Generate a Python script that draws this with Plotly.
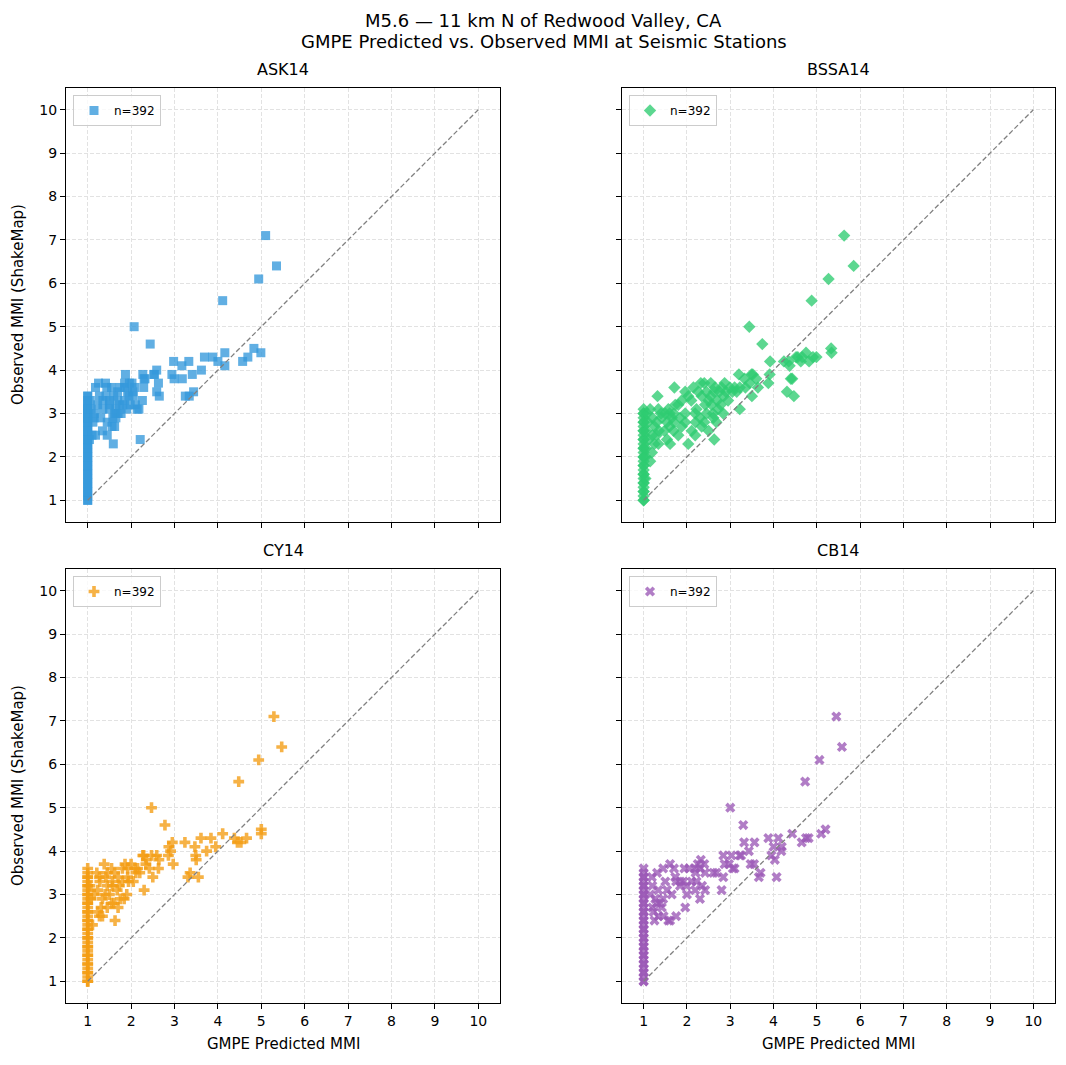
import plotly.graph_objects as go

# ---------------- data ----------------
TITLE_1 = "M5.6 — 11 km N of Redwood Valley, CA"
TITLE_2 = "GMPE Predicted vs. Observed MMI at Seismic Stations"
MODELS = ["ASK14", "BSSA14", "CY14", "CB14"]
COUNT_LABEL = "n=392"
MMI_TICKS = [1, 2, 3, 4, 5, 6, 7, 8, 9, 10]
ONE_TO_ONE = [1, 10]

# (GMPE predicted MMI, observed MMI)
ASK14 = [
    (1.0, 1.0), (1.0, 1.1), (1.0, 1.2), (1.0, 1.3), (1.0, 1.4), (1.0, 1.5), (1.0, 1.6), (1.0, 1.7),
    (1.0, 1.8), (1.0, 1.9), (1.0, 2.0), (1.0, 2.1), (1.0, 2.2), (1.0, 2.3), (1.0, 2.4), (1.0, 2.5),
    (1.0, 2.6), (1.0, 2.7), (1.0, 2.8), (1.0, 2.9), (1.0, 3.0), (1.0, 3.1), (1.0, 3.2), (1.0, 3.3),
    (1.0, 3.4), (1.0, 1.0), (1.0, 1.2), (1.0, 1.4), (1.0, 1.6), (1.0, 1.8), (1.0, 2.0), (1.0, 2.2),
    (1.0, 2.4), (1.0, 2.6), (1.0, 2.8), (1.0, 3.0), (1.0, 3.2), (1.0, 3.4), (1.0, 3.1), (1.0, 2.9),
    (1.04, 2.4), (1.06, 3.3), (1.08, 3.1), (1.10, 2.5), (1.15, 3.0), (1.15, 2.9), (1.12, 2.8),
    (1.18, 3.6), (1.18, 2.5), (1.23, 3.2), (1.25, 3.7), (1.27, 3.4), (1.30, 2.9), (1.34, 2.6),
    (1.35, 3.1), (1.35, 3.3), (1.41, 3.7), (1.42, 3.4), (1.44, 3.6), (1.45, 2.5), (1.45, 2.8),
    (1.50, 3.3), (1.50, 3.2), (1.50, 3.1), (1.55, 3.6), (1.56, 2.7), (1.58, 2.9), (1.59, 2.3),
    (1.60, 3.4), (1.62, 2.7), (1.62, 3.0), (1.65, 3.1), (1.65, 2.9), (1.69, 3.5), (1.69, 3.3),
    (1.70, 3.0), (1.73, 3.2), (1.75, 3.6), (1.77, 3.0), (1.81, 3.2), (1.85, 3.7), (1.85, 3.3),
    (1.85, 3.6), (1.87, 3.9), (1.90, 3.1), (1.92, 3.5), (1.95, 3.4), (1.96, 3.7), (1.98, 3.2),
    (2.02, 3.7), (2.04, 3.5), (2.05, 3.4), (2.08, 3.6), (2.10, 3.2), (2.14, 3.1), (2.18, 3.1),
    (2.21, 2.4), (2.26, 3.3), (2.27, 3.9), (2.29, 3.6), (2.30, 3.8), (2.32, 3.8), (2.52, 3.9),
    (2.54, 3.9), (2.59, 4.0), (2.59, 3.5), (2.63, 3.7), (2.65, 3.4), (2.94, 3.9), (2.98, 4.2),
    (2.99, 3.8), (3.17, 4.1), (3.18, 3.8), (3.25, 3.4), (3.33, 4.2), (3.34, 3.4), (3.41, 3.9),
    (3.44, 3.5), (3.62, 4.0), (3.69, 4.3), (3.88, 4.3), (4.00, 4.2), (4.16, 4.4), (4.16, 4.1),
    (4.57, 4.2), (4.69, 4.3), (4.83, 4.5), (4.99, 4.4), (2.44, 4.6), (2.07, 5.0), (4.11, 5.6),
    (4.94, 6.1), (5.35, 6.4), (5.10, 7.1),
]

BSSA14 = [
    (1.0, 1.0), (1.0, 1.1), (1.0, 1.2), (1.0, 1.3), (1.0, 1.4), (1.0, 1.5), (1.0, 1.6), (1.0, 1.7),
    (1.0, 1.8), (1.0, 1.9), (1.0, 2.0), (1.0, 2.1), (1.0, 2.2), (1.0, 2.3), (1.0, 2.4), (1.0, 2.5),
    (1.0, 2.6), (1.0, 2.7), (1.0, 2.8), (1.0, 2.9), (1.0, 3.0), (1.0, 3.1), (1.0, 1.0), (1.0, 1.2),
    (1.0, 1.4), (1.0, 1.6), (1.0, 1.8), (1.0, 2.0), (1.0, 2.2), (1.0, 2.4), (1.0, 2.6), (1.0, 2.8),
    (1.0, 3.0), (1.04, 1.5), (1.04, 2.0), (1.05, 2.2), (1.06, 2.6), (1.08, 3.0), (1.10, 2.8),
    (1.12, 2.4), (1.15, 3.1), (1.15, 1.9), (1.19, 2.1), (1.20, 2.9), (1.20, 2.5), (1.25, 2.7),
    (1.25, 2.3), (1.30, 2.5), (1.30, 2.8), (1.32, 3.4), (1.34, 3.1), (1.34, 2.3), (1.35, 2.6),
    (1.40, 3.0), (1.42, 2.9), (1.48, 2.6), (1.50, 3.0), (1.54, 2.8), (1.54, 2.4), (1.57, 3.1),
    (1.60, 3.0), (1.60, 2.7), (1.61, 2.3), (1.65, 2.9), (1.69, 2.6), (1.70, 2.8), (1.70, 3.0),
    (1.71, 3.6), (1.73, 3.2), (1.80, 3.2), (1.80, 2.5), (1.84, 2.9), (1.88, 3.3), (1.88, 2.7),
    (1.96, 3.5), (1.96, 3.0), (1.96, 2.8), (2.03, 3.4), (2.03, 2.3), (2.10, 3.3), (2.11, 2.6),
    (2.15, 3.6), (2.19, 3.0), (2.19, 2.5), (2.20, 2.8), (2.22, 3.1), (2.26, 3.5), (2.30, 2.9),
    (2.32, 3.7), (2.34, 3.4), (2.34, 2.7), (2.40, 3.7), (2.40, 2.8), (2.42, 3.2), (2.45, 3.5),
    (2.45, 3.0), (2.50, 3.3), (2.50, 2.6), (2.55, 3.4), (2.55, 3.7), (2.57, 3.2), (2.60, 3.0),
    (2.61, 2.9), (2.63, 3.5), (2.63, 2.4), (2.65, 3.6), (2.68, 2.8), (2.70, 3.3), (2.72, 3.1),
    (2.75, 3.5), (2.78, 3.2), (2.80, 3.6), (2.84, 3.0), (2.85, 3.4), (2.87, 3.7), (2.90, 3.5),
    (2.95, 3.3), (2.99, 3.6), (3.05, 3.5), (3.10, 3.6), (3.15, 3.5), (3.20, 3.9), (3.22, 3.6),
    (3.22, 3.1), (3.33, 3.8), (3.35, 3.6), (3.45, 3.7), (3.49, 3.9), (3.50, 3.4), (3.52, 3.9),
    (3.60, 3.8), (3.64, 3.6), (3.88, 3.7), (3.91, 3.9), (3.92, 4.2), (4.24, 4.2), (4.31, 3.5),
    (4.35, 4.2), (4.37, 4.1), (4.40, 3.8), (4.43, 3.8), (4.47, 3.4), (4.52, 4.3), (4.56, 4.3),
    (4.63, 4.2), (4.66, 4.3), (4.75, 4.4), (4.82, 4.2), (4.91, 4.3), (4.99, 4.3), (5.33, 4.5),
    (5.34, 4.4), (3.74, 4.6), (3.44, 5.0), (4.88, 5.6), (5.27, 6.1), (5.85, 6.4), (5.63, 7.1),
]

CY14 = [
    (1.0, 1.0), (1.0, 1.1), (1.0, 1.2), (1.0, 1.3), (1.0, 1.4), (1.0, 1.5), (1.0, 1.6), (1.0, 1.7),
    (1.0, 1.8), (1.0, 1.9), (1.0, 2.0), (1.0, 2.1), (1.0, 2.2), (1.0, 2.3), (1.0, 2.4), (1.0, 2.5),
    (1.0, 2.6), (1.0, 2.7), (1.0, 2.8), (1.0, 2.9), (1.0, 3.0), (1.0, 3.1), (1.0, 3.2), (1.0, 3.3),
    (1.0, 3.4), (1.0, 3.5), (1.0, 3.6), (1.0, 1.0), (1.0, 1.2), (1.0, 1.4), (1.0, 1.6), (1.0, 1.8),
    (1.0, 2.0), (1.0, 2.2), (1.0, 2.4), (1.0, 2.6), (1.0, 2.8), (1.0, 3.0), (1.0, 3.2), (1.0, 3.4),
    (1.05, 3.2), (1.08, 2.9), (1.11, 2.3), (1.15, 3.0), (1.21, 3.5), (1.23, 3.1), (1.23, 2.6),
    (1.27, 3.4), (1.27, 2.5), (1.28, 3.3), (1.31, 2.7), (1.34, 2.9), (1.34, 2.5), (1.38, 3.7),
    (1.40, 3.0), (1.42, 3.4), (1.45, 3.5), (1.45, 3.2), (1.45, 2.7), (1.50, 3.0), (1.55, 3.6),
    (1.55, 2.8), (1.57, 3.3), (1.57, 3.2), (1.60, 2.8), (1.62, 3.5), (1.63, 2.4), (1.68, 3.1),
    (1.70, 3.4), (1.70, 2.7), (1.73, 3.2), (1.75, 2.9), (1.80, 3.3), (1.80, 3.6), (1.84, 2.9),
    (1.86, 3.7), (1.90, 3.0), (1.92, 3.6), (1.92, 3.4), (1.94, 3.3), (2.00, 3.7), (2.05, 3.3),
    (2.09, 3.6), (2.11, 3.5), (2.15, 3.6), (2.20, 3.5), (2.27, 3.9), (2.29, 3.9), (2.30, 3.1),
    (2.34, 3.7), (2.35, 3.8), (2.42, 3.6), (2.47, 3.9), (2.50, 3.4), (2.59, 3.9), (2.63, 3.6),
    (2.64, 3.8), (2.86, 3.9), (2.87, 4.1), (2.91, 4.0), (2.95, 4.2), (2.97, 3.7), (3.24, 4.2),
    (3.31, 3.4), (3.36, 3.5), (3.47, 4.1), (3.49, 3.9), (3.50, 3.8), (3.55, 3.4), (3.61, 4.3),
    (3.74, 4.0), (3.84, 4.3), (3.95, 4.1), (4.11, 4.4), (4.38, 4.3), (4.45, 4.2), (4.53, 4.2),
    (4.66, 4.3), (5.00, 4.5), (5.00, 4.4), (2.78, 4.6), (2.47, 5.0), (4.48, 5.6), (4.94, 6.1),
    (5.47, 6.4), (5.29, 7.1),
]

CB14 = [
    (1.0, 1.0), (1.0, 1.1), (1.0, 1.2), (1.0, 1.3), (1.0, 1.4), (1.0, 1.5), (1.0, 1.6), (1.0, 1.7),
    (1.0, 1.8), (1.0, 1.9), (1.0, 2.0), (1.0, 2.1), (1.0, 2.2), (1.0, 2.3), (1.0, 2.4), (1.0, 2.5),
    (1.0, 2.6), (1.0, 2.7), (1.0, 2.8), (1.0, 2.9), (1.0, 3.0), (1.0, 3.1), (1.0, 3.2), (1.0, 3.3),
    (1.0, 3.4), (1.0, 3.5), (1.0, 3.6), (1.0, 1.0), (1.0, 1.2), (1.0, 1.4), (1.0, 1.6), (1.0, 1.8),
    (1.0, 2.0), (1.0, 2.2), (1.0, 2.4), (1.0, 2.6), (1.0, 2.8), (1.0, 3.0), (1.0, 3.2), (1.0, 3.4),
    (1.15, 3.0), (1.19, 3.4), (1.20, 3.2), (1.20, 2.7), (1.23, 2.6), (1.25, 2.4), (1.27, 2.9),
    (1.30, 2.8), (1.31, 3.5), (1.34, 3.1), (1.34, 2.5), (1.38, 2.8), (1.42, 2.7), (1.45, 3.6),
    (1.45, 2.9), (1.46, 2.5), (1.50, 3.3), (1.54, 3.1), (1.57, 2.4), (1.61, 3.7), (1.61, 2.4),
    (1.65, 3.0), (1.70, 3.6), (1.73, 3.4), (1.75, 3.3), (1.75, 2.5), (1.84, 3.2), (1.85, 3.3),
    (1.92, 3.3), (1.94, 3.6), (1.96, 2.7), (1.99, 3.2), (2.00, 3.0), (2.05, 3.6), (2.11, 3.3),
    (2.19, 3.6), (2.19, 3.1), (2.20, 3.5), (2.22, 3.3), (2.25, 3.7), (2.30, 3.6), (2.30, 2.9),
    (2.32, 3.8), (2.35, 3.2), (2.40, 3.7), (2.42, 3.5), (2.42, 3.1), (2.61, 3.5), (2.68, 3.5),
    (2.80, 3.1), (2.84, 3.4), (2.84, 3.9), (2.87, 3.7), (2.97, 3.7), (3.03, 3.9), (3.06, 3.6),
    (3.10, 3.6), (3.22, 3.9), (3.25, 3.9), (3.32, 4.2), (3.43, 4.0), (3.47, 3.7), (3.55, 3.7),
    (3.56, 4.2), (3.66, 3.4), (3.70, 3.5), (3.88, 4.3), (3.95, 3.9), (4.00, 4.1), (4.03, 3.8),
    (4.07, 3.4), (4.11, 4.3), (4.18, 4.0), (4.19, 4.1), (4.43, 4.4), (4.65, 4.2), (4.75, 4.3),
    (4.81, 4.3), (5.10, 4.4), (5.20, 4.5), (3.30, 4.6), (3.00, 5.0), (4.73, 5.6), (5.06, 6.1),
    (5.58, 6.4), (5.45, 7.1),
]

MODEL_POINTS = [ASK14, BSSA14, CY14, CB14]
COLORS = ["#3498db", "#2ecc71", "#f39c12", "#9b59b6"]
SYMBOLS = ["square", "diamond", "cross", "x"]
SIZES = [9, 9.5, 9, 9]

# ---------------- layout geometry ----------------
W, H = 1066, 1065
X_DOMAINS = [(66 / W, 500 / W), (622 / W, 1055 / W)]
Y_DOMAINS = [(1 - 522 / H, 1 - 88 / H), (1 - 1003 / H, 1 - 569 / H)]
FONT = "DejaVu Sans"

fig = go.Figure()
layout = dict(
    width=W, height=H, margin=dict(l=0, r=0, t=0, b=0),
    paper_bgcolor="white", plot_bgcolor="white",
    font=dict(family=FONT, size=14, color="black"),
    showlegend=True,
)
annotations = []

for i, (name, pts) in enumerate(zip(MODELS, MODEL_POINTS)):
    row, col = divmod(i, 2)
    s = "" if i == 0 else str(i + 1)
    xs = [p[0] for p in pts]
    ys = [p[1] for p in pts]

    fig.add_trace(go.Scatter(
        x=xs, y=ys, mode="markers", name=COUNT_LABEL,
        xaxis="x" + s, yaxis="y" + s, legend="legend" + s,
        marker=dict(symbol=SYMBOLS[i], size=SIZES[i], color=COLORS[i],
                    opacity=0.78, line=dict(width=0)),
    ))
    fig.add_trace(go.Scatter(
        x=ONE_TO_ONE, y=ONE_TO_ONE, mode="lines", showlegend=False,
        xaxis="x" + s, yaxis="y" + s, hoverinfo="skip",
        line=dict(color="#808080", width=1.3, dash="5px,2.5px"),
    ))

    axis_common = dict(
        range=[0.5, 10.5], tickmode="array", tickvals=MMI_TICKS,
        ticks="outside", ticklen=5, tickwidth=1, tickcolor="black",
        showline=True, linecolor="black", linewidth=1, mirror=True,
        showgrid=True, gridcolor="#e2e2e2", gridwidth=0.6, griddash="4px,2px",
        zeroline=False, tickfont=dict(family=FONT, size=14),
    )
    layout["xaxis" + s] = dict(axis_common, domain=X_DOMAINS[col], anchor="y" + s,
                               showticklabels=(row == 1))
    layout["yaxis" + s] = dict(axis_common, domain=Y_DOMAINS[row], anchor="x" + s,
                               showticklabels=(col == 0))

    lx = X_DOMAINS[col][0] + 7 / W
    ly = Y_DOMAINS[row][1] - 7 / H
    layout["legend" + s] = dict(
        x=lx, y=ly, xanchor="left", yanchor="top",
        bgcolor="rgba(255,255,255,0.8)", bordercolor="#cccccc", borderwidth=1,
        font=dict(family=FONT, size=12), itemwidth=30,
    )

    # subplot title
    annotations.append(dict(
        text=name, xref="paper", yref="paper",
        x=(X_DOMAINS[col][0] + X_DOMAINS[col][1]) / 2,
        y=Y_DOMAINS[row][1] + 7 / H, xanchor="center", yanchor="bottom",
        showarrow=False, font=dict(family=FONT, size=16),
    ))
    if row == 1:
        annotations.append(dict(
            text="GMPE Predicted MMI", xref="paper", yref="paper",
            x=(X_DOMAINS[col][0] + X_DOMAINS[col][1]) / 2, y=1 - 1044 / H,
            xanchor="center", yanchor="middle", showarrow=False,
            font=dict(family=FONT, size=15),
        ))
    if col == 0:
        annotations.append(dict(
            text="Observed MMI (ShakeMap)", xref="paper", yref="paper",
            x=18 / W, y=(Y_DOMAINS[row][0] + Y_DOMAINS[row][1]) / 2,
            xanchor="center", yanchor="middle", textangle=-90, showarrow=False,
            font=dict(family=FONT, size=15),
        ))

annotations.append(dict(text=TITLE_1, xref="paper", yref="paper", x=543.5 / W, y=1 - 20 / H,
                        xanchor="center", yanchor="middle", showarrow=False,
                        font=dict(family=FONT, size=18)))
annotations.append(dict(text=TITLE_2, xref="paper", yref="paper", x=543.5 / W, y=1 - 41 / H,
                        xanchor="center", yanchor="middle", showarrow=False,
                        font=dict(family=FONT, size=18)))
layout["annotations"] = annotations

fig.update_layout(**layout)
fig.write_html("out.html")
